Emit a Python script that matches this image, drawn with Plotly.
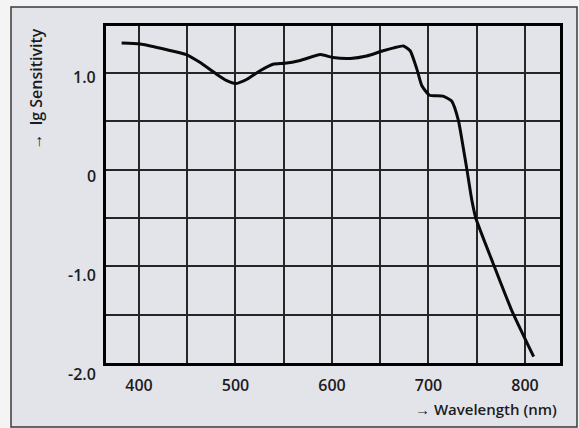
import plotly.graph_objects as go

# Data
wavelength_nm = [382, 401, 429, 449, 463, 480, 491, 500, 512, 525, 539, 551, 567, 588,
                 601, 619, 636, 653, 664, 674, 681, 688, 693, 701, 715, 724, 731, 736,
                 740, 745, 749, 767, 786, 809]
lg_sensitivity = [1.31, 1.30, 1.24, 1.19, 1.11, 0.99, 0.92, 0.89, 0.935, 1.02, 1.09, 1.10,
                  1.13, 1.19, 1.16, 1.15, 1.175, 1.23, 1.26, 1.28, 1.23, 1.04, 0.87, 0.77,
                  0.76, 0.71, 0.51, 0.23, -0.01, -0.32, -0.50, -0.97, -1.45, -1.935]

x_grid = [400, 450, 500, 550, 600, 650, 700, 750, 800]
x_labels = ["400", "", "500", "", "600", "", "700", "", "800"]
y_grid = [-1.5, -1.0, -0.5, 0.0, 0.5, 1.0]
y_label_vals = [1.0, 0.0, -1.0, -2.0]
y_label_text = ["1.0", "0", "-1.0", "-2.0"]

x_title = "→ Wavelength (nm)"
y_title = "→  lg Sensitivity"

W, H = 579, 428
L, R, T, B = 106, 19, 26, 65
pw, ph = W - L - R, H - T - B

def px_x(px):
    return (px - L) / pw

def px_y(py):
    return (H - B - py) / ph

FONT = "Open Sans"
TXT = "#1c1c1c"

fig = go.Figure()
fig.add_trace(go.Scatter(
    x=wavelength_nm, y=lg_sensitivity, mode="lines",
    line=dict(color="#0a0a0a", width=3, shape="spline", smoothing=0.5),
    hoverinfo="skip", showlegend=False,
))

annotations = []
for i, (v, t) in enumerate(zip(y_label_vals, y_label_text)):
    annotations.append(dict(
        x=px_x(98), xref="paper", y=v, yref="y", text=t, showarrow=False,
        xanchor="right", yanchor="middle", yshift=-(4.5 + 2.2 * i),
        font=dict(family=FONT, size=16, color=TXT, weight=600),
    ))
annotations.append(dict(
    x=px_x(559), xref="paper", y=px_y(409), yref="paper", text=x_title,
    showarrow=False, xanchor="right", yanchor="middle",
    font=dict(family=FONT, size=15, color=TXT, weight=600),
))
annotations.append(dict(
    x=px_x(35), xref="paper", y=px_y(27), yref="paper", text=y_title,
    showarrow=False, xanchor="center", yanchor="top", textangle=-90,
    font=dict(family=FONT, size=16, color=TXT, weight=600),
))

shapes = [dict(
    type="rect", xref="paper", yref="paper",
    x0=px_x(11), x1=px_x(577), y0=px_y(427), y1=px_y(7),
    fillcolor="#e3e4ea", line=dict(color="#3a3a3a", width=1.5), layer="below",
)]

fig.update_layout(
    width=W, height=H,
    margin=dict(l=L, r=R, t=T, b=B, pad=0),
    paper_bgcolor="#f4f4f4", plot_bgcolor="#ffffff",
    annotations=annotations, shapes=shapes,
    xaxis=dict(
        range=[365.8, 836.3], tickmode="array", tickvals=x_grid, ticktext=x_labels,
        showgrid=True, gridcolor="#262626", gridwidth=2, zeroline=False,
        showline=True, linecolor="#000000", linewidth=2.5, mirror=True,
        ticks="", tickfont=dict(family=FONT, size=16, color=TXT, weight=600),
        ticklabelstandoff=6, fixedrange=True,
    ),
    yaxis=dict(
        range=[-2.0, 1.486], tickmode="array", tickvals=y_grid,
        showticklabels=False,
        showgrid=True, gridcolor="#262626", gridwidth=2, zeroline=False,
        showline=True, linecolor="#000000", linewidth=2.5, mirror=True,
        ticks="", fixedrange=True,
    ),
)

fig.write_html(
    "out.html",
    config={"displayModeBar": False},
    post_script="document.body.style.margin='0';document.body.style.overflow='hidden';",
)
